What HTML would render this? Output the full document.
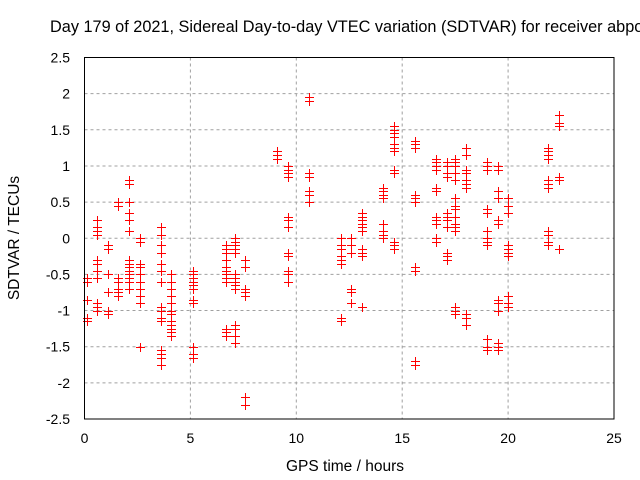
<!DOCTYPE html>
<html><head><meta charset="utf-8"><style>
html,body{margin:0;padding:0;background:#fff;}
svg{display:block;font-family:"Liberation Sans",sans-serif;}
</style></head><body>
<svg id="chart" width="640" height="480" viewBox="0 0 640 480">
<text x="50" y="32" font-size="16.3" fill="#000">Day 179 of 2021, Sidereal Day-to-day VTEC variation (SDTVAR) for receiver abpo</text>
<g id="grid"></g>
<g id="axes"></g>
<g id="points" shape-rendering="crispEdges"></g>
<rect x="84.5" y="57.5" width="529.5" height="361.5" fill="none" stroke="#000" stroke-width="1"/>
<text x="345" y="471" font-size="15.5" text-anchor="middle">GPS time / hours</text>
<text transform="translate(19,238) rotate(-90)" font-size="15.5" text-anchor="middle">SDTVAR / TECUs</text>
</svg>
<script>
const xTicks = [0,5,10,15,20,25];
const yTicks = [2.5,2,1.5,1,0.5,0,-0.5,-1,-1.5,-2,-2.5];
const yTickLabels = ["2.5","2","1.5","1","0.5","0","-0.5","-1","-1.5","-2","-2.5"];
const colHours = [0.1,0.6,1.1,1.6,2.1,2.6,3.6,4.1,5.1,6.7,7.1,7.6,9.1,9.6,10.6,12.1,12.6,13.1,14.1,14.6,15.6,16.6,17.1,17.5,18.0,19.0,19.5,20.0,21.9,22.4];
const colValues = [
 [-0.55,-0.6,-0.85,-1.1,-1.15],
 [0.25,0.15,0.1,0.05,-0.3,-0.35,-0.45,-0.55,-0.9,-0.95,-1.0],
 [-0.1,-0.15,-0.5,-0.75,-1.0,-1.05],
 [0.5,0.45,-0.55,-0.6,-0.7,-0.75,-0.8],
 [0.8,0.75,0.5,0.35,0.25,0.1,-0.3,-0.35,-0.4,-0.45,-0.5,-0.55,-0.6,-0.7],
 [0,-0.05,-0.35,-0.4,-0.5,-0.6,-0.7,-0.8,-0.9,-1.5],
 [0.15,0.05,-0.1,-0.2,-0.35,-0.45,-0.6,-0.95,-1.0,-1.1,-1.15,-1.55,-1.6,-1.65,-1.75],
 [-0.5,-0.6,-0.7,-0.8,-0.9,-1.0,-1.05,-1.15,-1.2,-1.25,-1.3,-1.35],
 [-0.45,-0.5,-0.55,-0.6,-0.65,-0.7,-0.85,-0.9,-1.5,-1.6,-1.65],
 [-0.1,-0.15,-0.2,-0.3,-0.4,-0.45,-0.5,-0.55,-0.6,-1.25,-1.3,-1.35],
 [0,-0.05,-0.1,-0.15,-0.2,-0.5,-0.55,-0.6,-0.65,-0.7,-1.2,-1.25,-1.35,-1.45],
 [-0.3,-0.4,-0.7,-0.75,-0.8,-2.2,-2.3],
 [1.2,1.15,1.1],
 [1.0,0.95,0.9,0.85,0.3,0.25,0.15,-0.2,-0.25,-0.45,-0.5,-0.6],
 [1.95,1.9,0.9,0.85,0.65,0.6,0.5],
 [0,-0.1,-0.15,-0.25,-0.3,-0.35,-1.1,-1.15],
 [0,-0.1,-0.2,-0.7,-0.75,-0.9],
 [0.35,0.3,0.25,0.2,0.15,0.1,-0.15,-0.2,-0.25,-0.95],
 [0.7,0.65,0.6,0.55,0.2,0.1,0.05,0],
 [1.55,1.5,1.45,1.4,1.3,1.25,1.2,0.95,0.9,-0.05,-0.1,-0.15],
 [1.35,1.3,1.25,0.6,0.55,0.5,-0.4,-0.45,-1.7,-1.75],
 [1.1,1.05,1.0,0.95,0.7,0.65,0.3,0.25,0.2,0,-0.05],
 [1.05,1.0,0.9,0.85,0.35,0.3,0.25,0.15,-0.2,-0.25,-0.3],
 [1.1,1.05,1.0,0.9,0.8,0.55,0.45,0.4,0.3,0.2,0.15,0.1,-0.95,-1.0,-1.05],
 [1.25,1.15,0.95,0.9,0.8,0.75,0.7,-1.05,-1.1,-1.2],
 [1.05,1.0,0.95,0.4,0.35,0.1,0,-0.05,-0.1,-1.4,-1.5,-1.55],
 [1.0,0.95,0.65,0.55,0.25,0.2,-0.85,-0.9,-1.0,-1.45,-1.5,-1.55],
 [0.55,0.45,0.35,-0.1,-0.15,-0.2,-0.25,-0.8,-0.9,-0.95],
 [1.25,1.2,1.15,1.1,0.8,0.75,0.7,0.1,0.05,-0.05,-0.1],
 [1.7,1.6,1.55,0.85,0.8,-0.15]
];
const NS='http://www.w3.org/2000/svg';
const X0=84.5,X1=614,Y0=57.5,Y1=419;
function xs(v){return X0+(v-0)/(25-0)*(X1-X0);}
function ys(v){return Y1-(v+2.5)/5*(Y1-Y0);}
function mk(t,a){const e=document.createElementNS(NS,t);for(const k in a)e.setAttribute(k,a[k]);return e;}
const grid=document.getElementById('grid'),axes=document.getElementById('axes'),pts=document.getElementById('points');
xTicks.forEach((t,i)=>{
  const x=xs(t);
  if(i>0&&i<xTicks.length-1){
    const g=mk('line',{x1:x,x2:x,y1:Y0,y2:Y1,stroke:'#a0a0a0','stroke-dasharray':'3,3'});
    
    
    grid.appendChild(g);
  }
  const lb=mk('text',{x:x,y:443,'font-size':14,'text-anchor':'middle'});
  lb.textContent=String(t);
  
  
  axes.appendChild(lb);
});
yTicks.forEach((t,i)=>{
  const y=ys(t);
  if(i>0&&i<yTicks.length-1){
    const g=mk('line',{x1:X0,x2:X1,y1:y,y2:y,stroke:'#a0a0a0','stroke-dasharray':'3,3'});
    
    
    grid.appendChild(g);
  }
  const lb=mk('text',{x:70,y:y+5,'font-size':14,'text-anchor':'end'});
  lb.textContent=yTickLabels[i];
  
  
  axes.appendChild(lb);
});
colHours.forEach((h,i)=>{
  colValues[i].forEach(v=>{
    const x=Math.round(xs(h)),y=Math.round(ys(v));
    const g=mk('g',{fill:'#ff0000'});
    
    
    g.appendChild(mk('rect',{x:x-4,y:y,width:9,height:1.2,fill:'#ff0000'}));
    g.appendChild(mk('rect',{x:x,y:y-4,width:1.2,height:9,fill:'#ff0000'}));
    pts.appendChild(g);
  });
});
</script>
</body></html>
